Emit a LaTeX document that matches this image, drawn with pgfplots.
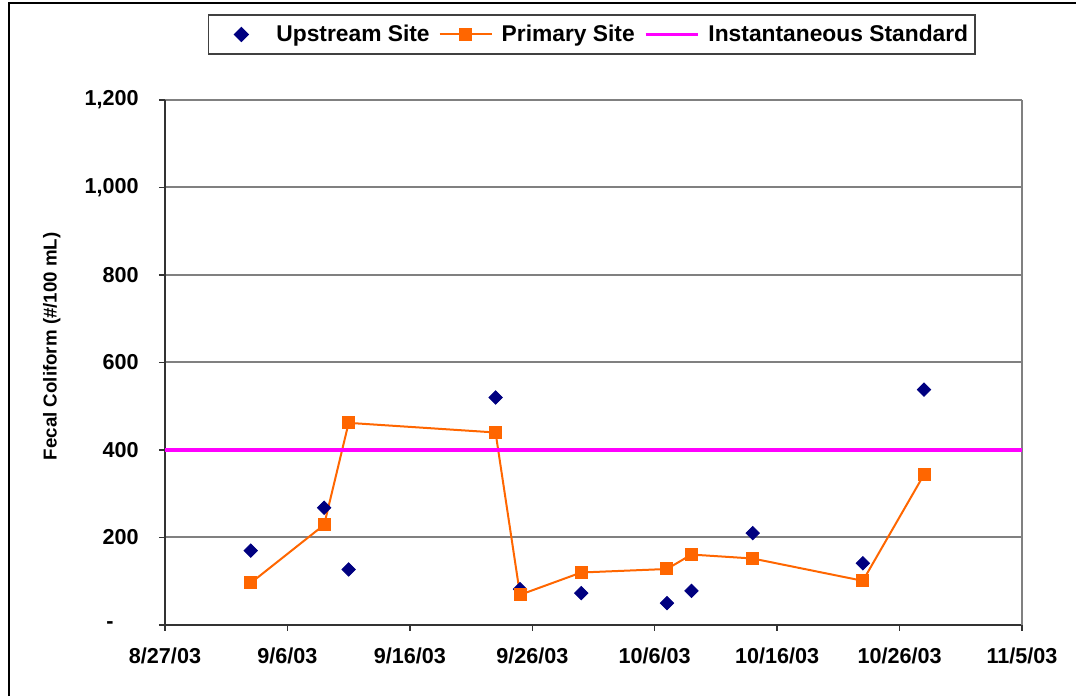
\documentclass[border=0pt]{standalone}
\usepackage{pgfplots}
\pgfplotsset{compat=1.18}
\usepackage{fontspec}
\setmainfont{Liberation Sans}
\definecolor{navyup}{RGB}{0,0,128}
\definecolor{orprim}{RGB}{255,102,0}
\definecolor{magstd}{RGB}{255,0,255}
\pgfplotsset{
  widelegend/.style={legend image code/.code={\draw[mark repeat=2,mark phase=2,##1] plot coordinates {(0pt,0pt) (13pt,0pt) (26pt,0pt)};}},
  markonlylegend/.style={legend image code/.code={\path[draw=none,fill=none] (0pt,0pt) -- (26pt,0pt); \draw[##1, only marks] plot coordinates {(13pt,0pt)};}}
}
\begin{document}
\begin{tikzpicture}
\useasboundingbox (0pt,0pt) rectangle (538pt,348pt);
\draw[line width=1.25pt] (4.5pt,0pt) -- (4.5pt,346.5pt) -- (538pt,346.5pt);
\begin{axis}[
  at={(82.5pt,35.5pt)}, anchor=south west,
  scale only axis, width=428.5pt, height=262.5pt,
  xmin=0, xmax=70, ymin=0, ymax=1200,
  axis x line*=bottom, axis y line*=left,
  axis line style={-, line width=1pt, black!80},
  xtick={0,10,20,30,40,50,60,70},
  xticklabels={8/27/03,9/6/03,9/16/03,9/26/03,10/6/03,10/16/03,10/26/03,11/5/03},
  ytick={0,200,400,600,800,1000,1200},
  yticklabels={{-\hspace*{12.5pt}},200,400,600,800,{1,000},{1,200}},
  tick align=outside, major tick length=3pt,
  tick style={black!80, line width=0.75pt},
  ymajorgrids, major grid style={black!50, line width=1pt},
  extra x ticks={70}, extra x tick labels={},
  extra x tick style={grid=major, major grid style={black!50, line width=1pt}},
  /pgf/number format/assume math mode=true,
  ticklabel style={font=\fontsize{10.8}{12}\selectfont\bfseries},
  yticklabel style={inner sep=0pt, xshift=-10pt},
  xticklabel style={inner sep=0pt, yshift=-8pt},
  ylabel={Fecal Coliform (\#/100 mL)},
  every axis y label/.style={at={(axis description cs:-0.132,0.531)}, rotate=90, anchor=center, font=\fontsize{9.35}{11}\selectfont\bfseries},
  legend columns=3,
  legend style={at={(axis description cs:0.498,1.1248)}, anchor=center,
    draw=black!75, line width=0.75pt, inner xsep=3.5pt, inner ysep=4.9pt,
    font=\fontsize{11.4}{13}\selectfont\bfseries,
    nodes={inner sep=0pt},
    /tikz/every odd column/.append style={column sep=4.5pt},
    /tikz/every even column/.append style={column sep=4.5pt}},
  widelegend,
  clip=false,
]
\addplot[only marks, mark=square*, mark size=2.37pt, mark options={rotate=45, fill=navyup, draw=navyup}, navyup, markonlylegend]
  coordinates {(7,170) (13,268) (15,127) (27,520) (29,82) (34,73) (41,50) (43,78) (48,210) (57,141) (62,538)};
\addlegendentry{Upstream Site}
\addplot[orprim, line width=1pt, mark=square*, mark size=3pt, mark options={fill=orprim, draw=orprim, line width=0pt}]
  coordinates {(7,96) (13,229) (15,462) (27,440) (29,69) (34,120) (41,128) (43,161) (48,152) (57,101) (62,344)};
\addlegendentry{Primary Site}
\addplot[magstd, line width=1.85pt] coordinates {(0,400) (70,400)};
\addlegendentry{Instantaneous Standard}
\end{axis}
\end{tikzpicture}
\end{document}
